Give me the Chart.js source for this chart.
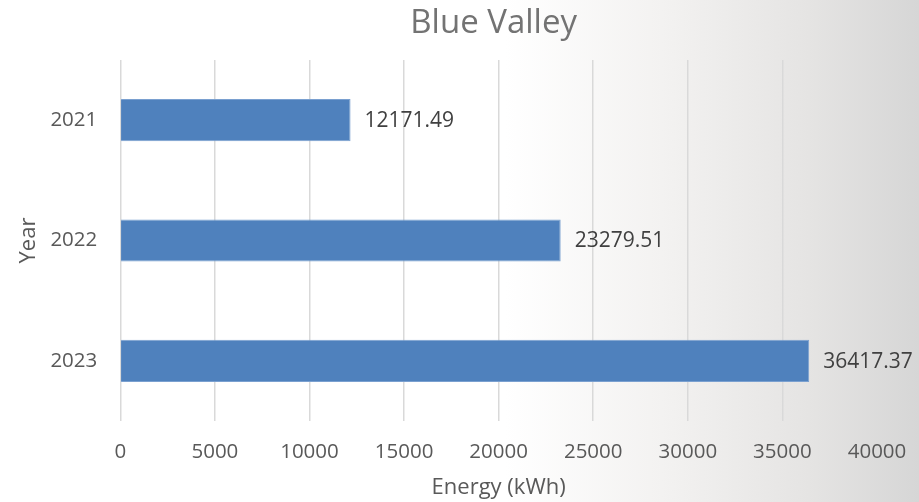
<!DOCTYPE html>
<html><head><meta charset="utf-8">
<script src="https://cdn.jsdelivr.net/npm/chart.js@4"></script>
<style>
html,body{margin:0;padding:0;}
body{width:919px;height:502px;background:linear-gradient(to right,#ffffff 0%,#ffffff 55%,#f3f2f1 72%,#e5e4e3 88%,#d6d6d6 100%);overflow:hidden;}
#wrap{position:relative;width:919px;height:502px;}
</style></head>
<body><div id="wrap"><canvas id="c" width="919" height="502"></canvas></div>
<script>
const categories = ['2021', '2022', '2023'];
const energyValues = [12171.49, 23279.51, 36417.37];
const xTicks = [0, 5000, 10000, 15000, 20000, 25000, 30000, 35000, 40000];
const chartTitle = 'Blue Valley';

const FONT = "'Open Sans', 'Noto Sans', sans-serif";
const TXT = '#595959';

const labelPlugin = {
  id: 'valueLabels',
  afterDatasetsDraw(chart) {
    const ctx = chart.ctx;
    const meta = chart.getDatasetMeta(0);
    ctx.save();
    ctx.font = '21px ' + FONT;
    ctx.fillStyle = '#404040';
    ctx.textAlign = 'left';
    ctx.textBaseline = 'middle';
    meta.data.forEach((bar, i) => {
      ctx.fillText(energyValues[i].toFixed(2), bar.x + 14, bar.y + 1);
    });
    // title centred over plot area
    const a = chart.chartArea;
    ctx.font = '33px ' + FONT;
    ctx.fillStyle = '#737373';
    ctx.textAlign = 'center';
    ctx.fillText(chartTitle, (a.left + a.right) / 2 - 5, 24);
    ctx.restore();
  }
};

new Chart(document.getElementById('c'), {
  type: 'bar',
  data: {
    labels: categories,
    datasets: [{
      data: energyValues,
      backgroundColor: '#4f81bd',
      borderColor: '#7aa0d0',
      borderWidth: 1,
      categoryPercentage: 1,
      barPercentage: 0.35
    }]
  },
  options: {
    indexAxis: 'y',
    responsive: false,
    animation: false,
    layout: { padding: { left: 16, right: 42, top: 60, bottom: 1 } },
    plugins: {
      legend: { display: false },
      tooltip: { enabled: false },
      title: { display: false }
    },
    scales: {
      x: {
        min: 0, max: 40000,
        afterBuildTicks(axis) { axis.ticks = xTicks.map(v => ({ value: v })); },
        afterFit(axis) { axis.paddingRight = 0; axis.paddingLeft = 0; },
        grid: {
          color: ctx => (ctx.tick && ctx.tick.value === 40000) ? 'rgba(0,0,0,0)' : '#d9d9d9',
          lineWidth: 1.5,
          drawTicks: false
        },
        border: { display: false },
        ticks: { color: TXT, font: { family: FONT, size: 20.5 }, padding: 19, maxRotation: 0,
                 callback: v => String(v) },
        title: { display: true, text: 'Energy (kWh)', color: TXT, font: { family: FONT, size: 22 }, padding: { top: -9, bottom: 0 } }
      },
      y: {
        grid: { display: false, drawTicks: false },
        border: { display: false },
        ticks: { color: TXT, font: { family: FONT, size: 20.5 }, padding: 23 },
        title: { display: true, text: 'Year', color: TXT, font: { family: FONT, size: 22 }, padding: { top: 0, bottom: -15 } }
      }
    }
  },
  plugins: [labelPlugin]
});
</script></body></html>
